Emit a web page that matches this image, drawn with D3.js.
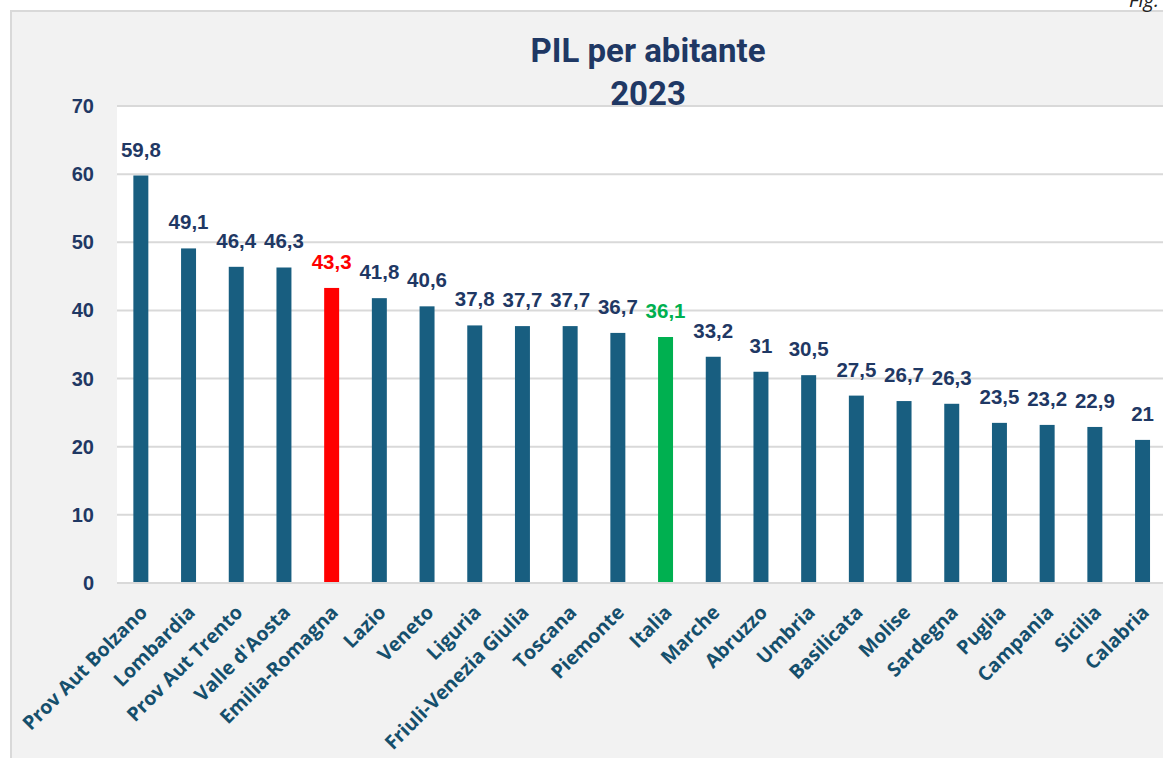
<!DOCTYPE html>
<html><head><meta charset="utf-8">
<script src="https://cdn.jsdelivr.net/npm/d3@7"></script>
<style>
html,body{margin:0;padding:0;background:#fff;}
svg{display:block;}
</style></head>
<body>
<script>
const categories = ["Prov Aut Bolzano","Lombardia","Prov Aut Trento","Valle d'Aosta","Emilia-Romagna","Lazio","Veneto","Liguria","Friuli-Venezia Giulia","Toscana","Piemonte","Italia","Marche","Abruzzo","Umbria","Basilicata","Molise","Sardegna","Puglia","Campania","Sicilia","Calabria"];
const values = [59.8,49.1,46.4,46.3,43.3,41.8,40.6,37.8,37.7,37.7,36.7,36.1,33.2,31,30.5,27.5,26.7,26.3,23.5,23.2,22.9,21];
const yTicks = [0,10,20,30,40,50,60,70];
const highlight = {"Emilia-Romagna":"#ff0000","Italia":"#00b050"};
const titleLines = ["PIL per abitante","2023"];

const W = 1163, H = 758;
const svg = d3.select("body").append("svg").attr("width", W).attr("height", H);

// outer frame
svg.append("rect").attr("x",11).attr("y",11).attr("width",W).attr("height",H)
  .attr("fill","#f2f2f2").attr("stroke","#d9d9d9").attr("stroke-width",2);

// Fig. label (cropped at top, as in the reference)
svg.append("text").attr("x",1129).attr("y",7).attr("font-family","Open Sans").attr("font-style","italic")
  .attr("font-size",20).attr("fill","#222").text("Fig.");

const plotL = 117, plotT = 106, plotB = 583;
const step = 47.7;
const x = d3.scaleBand().domain(categories).range([plotL, plotL + step*categories.length]).paddingInner(0.686).paddingOuter(0.343);
const y = d3.scaleLinear().domain([0,70]).range([plotB, plotT]);

// plot area
svg.append("rect").attr("x",plotL).attr("y",plotT).attr("width",W-plotL+5).attr("height",plotB-plotT).attr("fill","#fff");

// gridlines
svg.append("g").selectAll("line").data(yTicks).join("line")
  .attr("x1",plotL).attr("x2",W+5).attr("y1",d=>y(d)).attr("y2",d=>y(d))
  .attr("stroke","#d9d9d9").attr("stroke-width",2);

// y tick labels
svg.append("g").selectAll("text").data(yTicks).join("text")
  .attr("x",94).attr("y",d=>y(d)+7).attr("text-anchor","end")
  .attr("font-family","Liberation Sans, Arial, sans-serif").attr("font-weight","bold").attr("font-size",20)
  .attr("fill","#1f3864").text(d=>d);

const data = categories.map((c,i)=>({c, v: values[i]}));

// bars
svg.append("g").selectAll("rect").data(data).join("rect")
  .attr("x",d=>x(d.c)).attr("width",x.bandwidth())
  .attr("y",d=>y(d.v)).attr("height",d=>plotB - y(d.v) - 1)
  .attr("fill",d=>highlight[d.c] || "#185e80");

// value labels
svg.append("g").selectAll("text").data(data).join("text")
  .attr("x",d=>x(d.c)+x.bandwidth()/2).attr("y",d=>y(d.v)-19).attr("text-anchor","middle")
  .attr("font-family","Liberation Sans, Arial, sans-serif").attr("font-weight","bold").attr("font-size",20.5)
  .attr("fill",d=>highlight[d.c] || "#1f3864").text(d=>String(d.v).replace(".",","));

// category labels
svg.append("g").selectAll("text").data(data).join("text")
  .attr("transform",d=>`translate(${x(d.c)+x.bandwidth()/2-2},${604}) rotate(-45)`)
  .attr("text-anchor","end").attr("dy","0.7em")
  .attr("font-family","Open Sans, sans-serif").attr("font-weight","bold").attr("font-size",19.5)
  .attr("fill","#154f6c").text(d=>d.c);

// title
svg.append("g").selectAll("text").data(titleLines).join("text")
  .attr("x",648).attr("y",(d,i)=>62+i*43).attr("text-anchor","middle")
  .attr("font-family","Roboto, sans-serif").attr("font-weight","bold").attr("font-size",33)
  .attr("fill","#1f3864").text(d=>d);
</script>
</body></html>
